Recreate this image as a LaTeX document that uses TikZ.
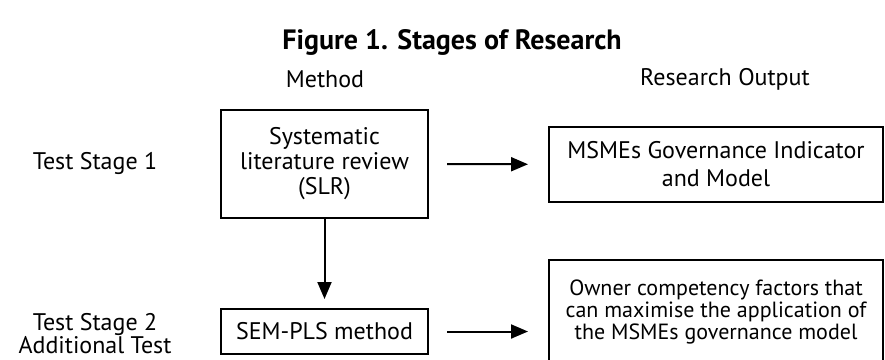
\documentclass[tikz,border=0pt]{standalone}
\usepackage{fontspec}
\setmainfont{PT Sans}
\usetikzlibrary{arrows.meta}

\begin{document}
\begin{tikzpicture}[x=1pt,y=-1pt,
    box/.style={draw, line width=2pt, align=center, inner sep=0pt},
    txt/.style={align=center, font=\fontsize{24}{25}\selectfont},
    arr/.style={-{Triangle[length=17pt,width=14pt]}, line width=2pt}]
      \useasboundingbox (0,0) rectangle (885,359);
      \clip (0,0) rectangle (885,359);
      % headings
      \node[font=\bfseries\fontsize{28}{30}\selectfont] (title) at (452,42) {Figure 1. Stages of Research};
      \node[txt] (method) at (325,79) {Method};
      \node[txt] (output) at (725,79) {Research Output};
      % stage labels
      \node[txt] (stage1) at (95,163) {Test Stage 1};
      \node[txt, font=\fontsize{24}{23}\selectfont] (stage2) at (95,334) {Test Stage 2\\Additional Test};
      % boxes
      \node[box, txt, minimum width=207, minimum height=108] (slr) at (324.5,164) {Systematic\\literature review\\(SLR)};
      \node[box, txt, minimum width=207, minimum height=45] (sem) at (324.5,331.5) {SEM-PLS method};
      \node[box, txt, font=\fontsize{24}{28}\selectfont, minimum width=334, minimum height=75] (out1) at (716,164.5) {MSMEs Governance Indicator\\and Model};
      \node[box, txt, font=\fontsize{22}{22}\selectfont, minimum width=334, minimum height=104] (out2) at (716,312) {Owner competency factors that\\can maximise the application of\\the MSMEs governance model};
      % arrows
      \draw[arr, shorten <=18pt, shorten >=20pt] (slr) -- (out1);
      \draw[arr, shorten >=9pt] (slr) -- (sem);
      \draw[arr, shorten <=18pt, shorten >=20pt] (sem.east) -- (sem.east -| out2.west);
    \end{tikzpicture}
\end{document}
